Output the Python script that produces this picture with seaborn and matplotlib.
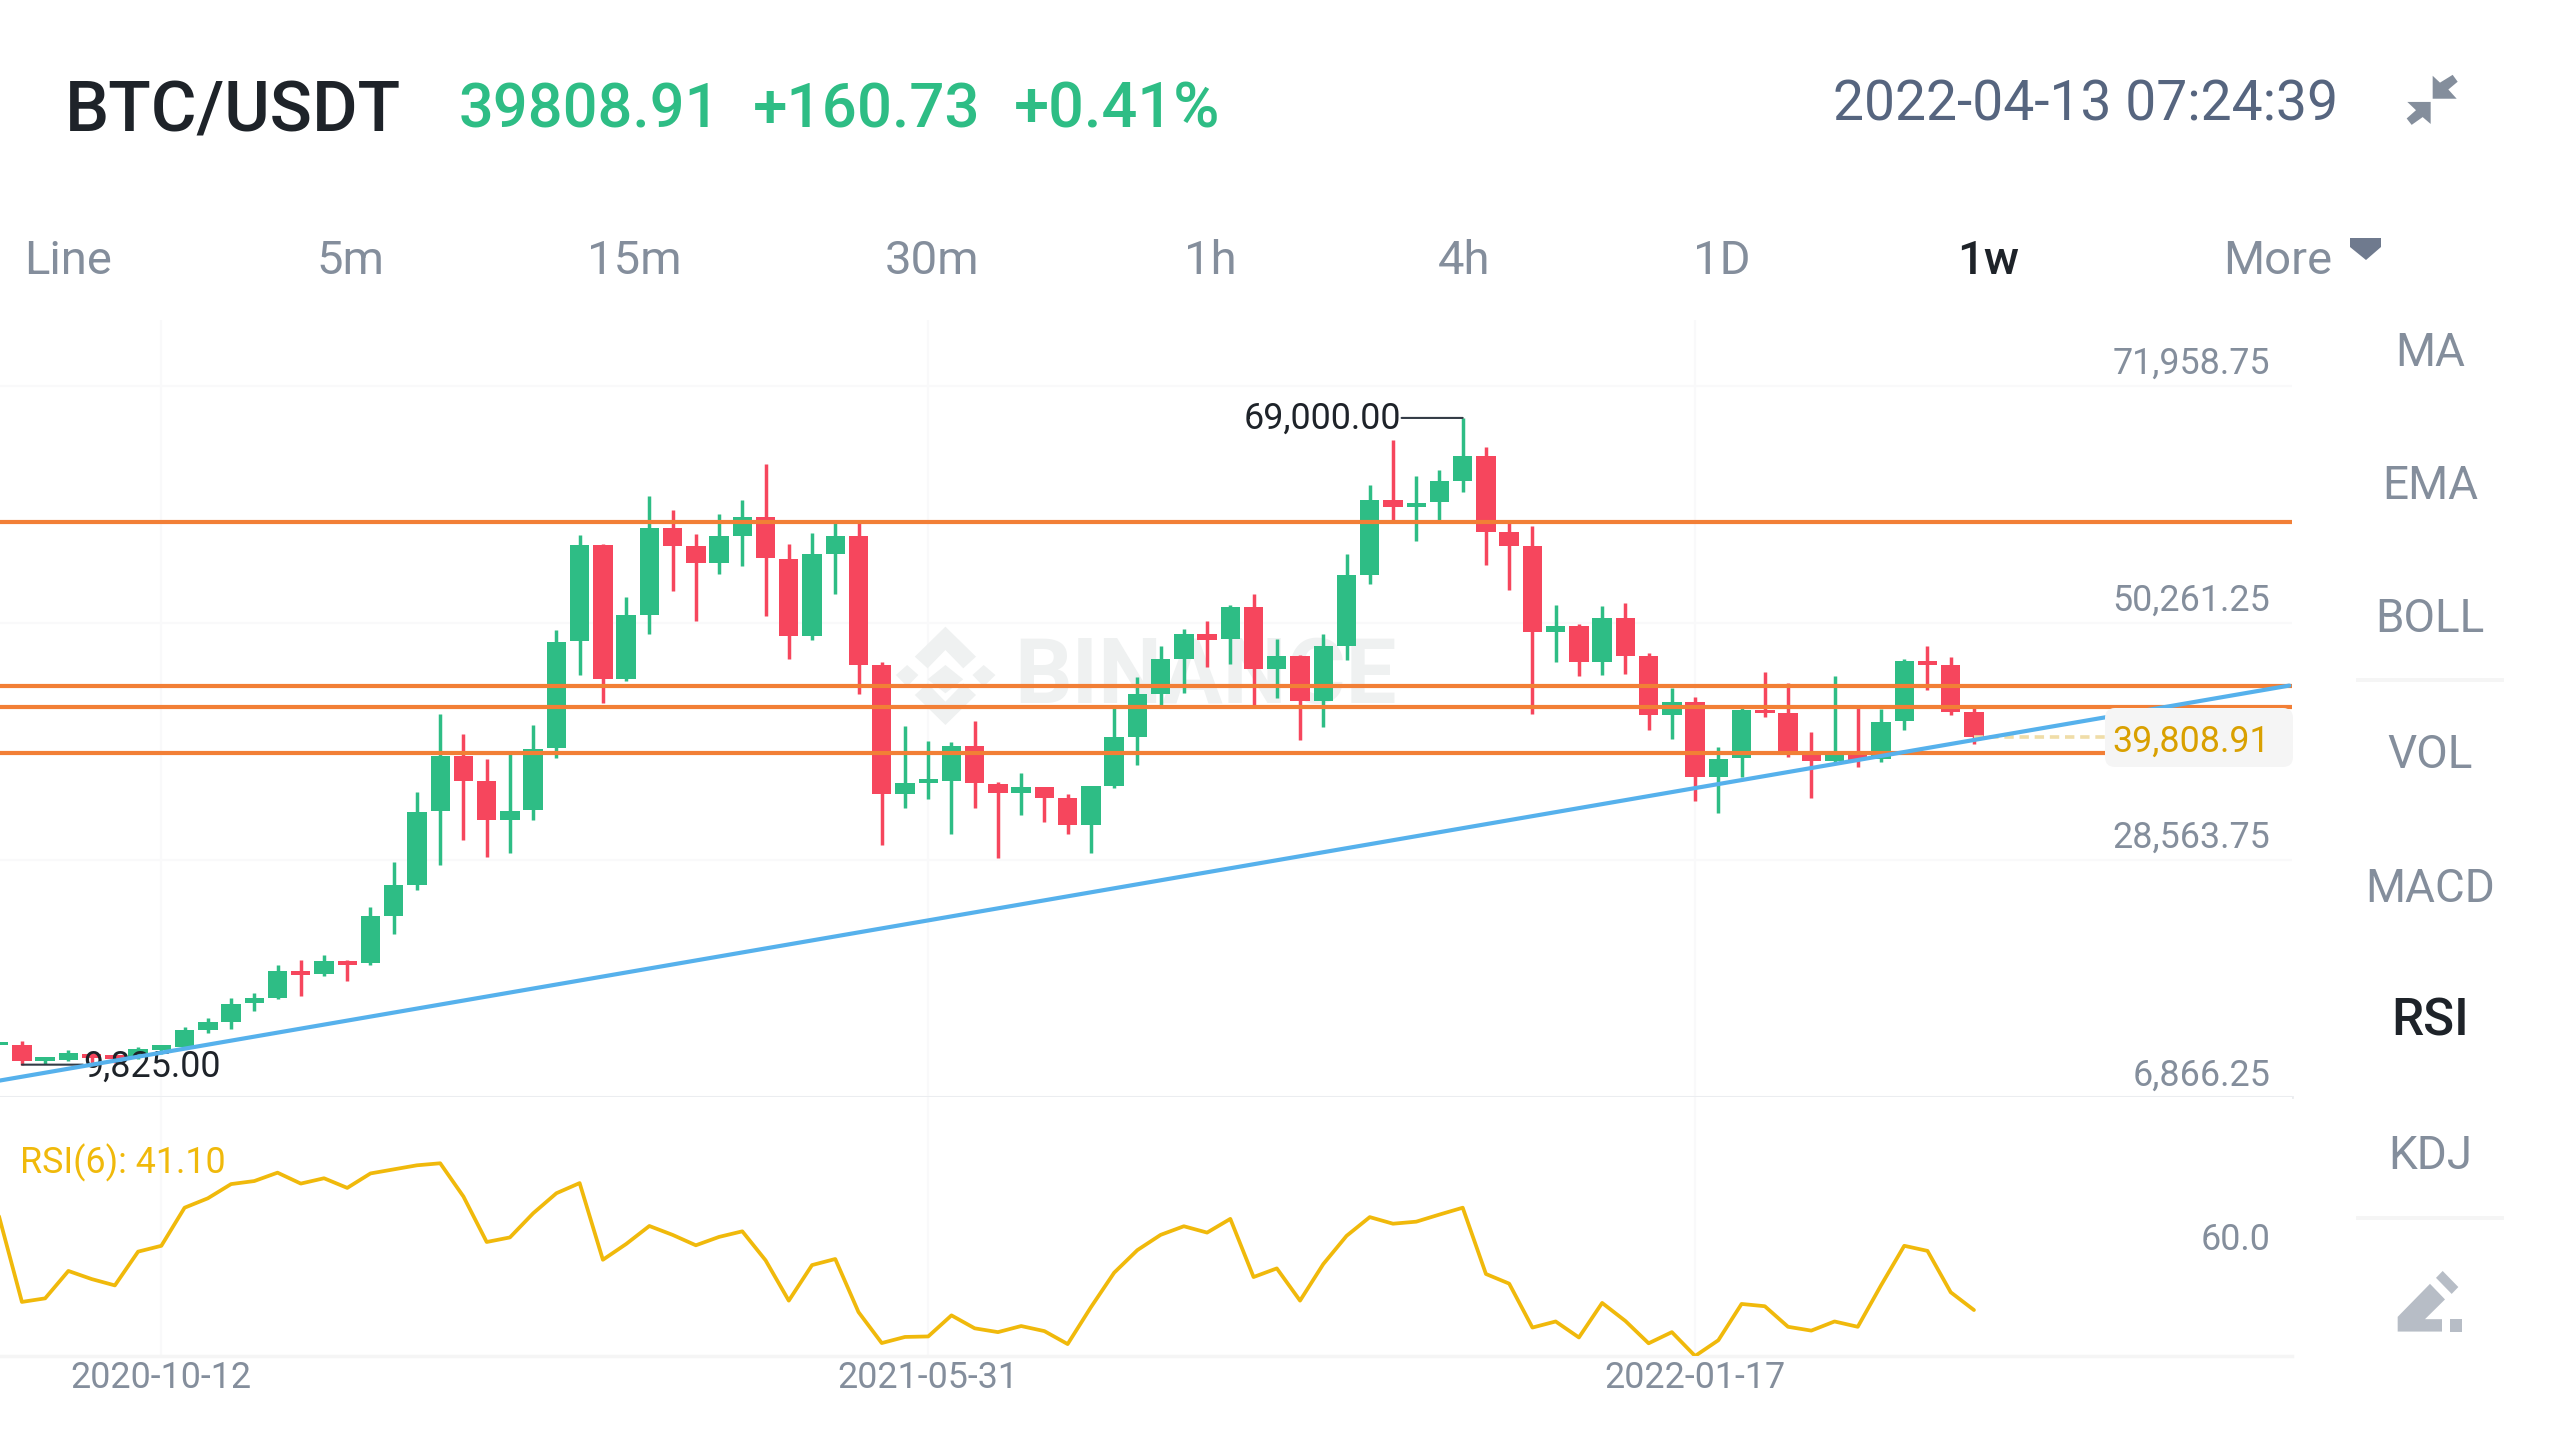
import pandas as pd
import matplotlib
matplotlib.use('Agg')
import matplotlib.pyplot as plt
import matplotlib.transforms as mtrans
import matplotlib.dates as mdates
from matplotlib.patches import Polygon, FancyBboxPatch, Rectangle
import seaborn as sns

# weekly candles, first one is the week of 2020-08-24
opens = [11630, 11630, 10202, 10286, 10832, 10706, 10496, 11210, 11420, 13016, 13730, 15452, 15914, 18350, 18140, 19316, 19148, 23432, 26288, 33008, 38090, 35780, 32252, 33092, 38762, 48590, 57368, 45104, 50984, 58922, 57284, 55772, 58208, 59930, 56108, 49053, 56554, 58200, 46400, 34631, 35607, 35759, 38991, 35546, 34662, 35241, 34204, 31735, 35333, 39815, 43778, 46949, 49206, 48748, 51706, 46004, 47224, 43138, 48169, 54663, 61493, 60822, 61280, 63261, 65487, 58566, 57255, 49388, 49998, 46644, 50730, 47224, 41857, 43016, 36186, 37863, 42284, 42010, 38473, 37650, 38260, 37772, 41248, 46766, 46370, 42101]
highs = [11924, 11966, 10538, 11126, 10916, 10706, 11462, 11630, 13310, 14066, 15914, 16418, 18938, 19400, 19820, 19400, 24272, 28388, 34730, 41912, 40064, 37796, 38510, 40904, 49640, 58334, 57452, 52580, 61820, 60560, 58376, 60182, 61484, 64802, 57452, 58444, 59511, 59511, 46644, 40790, 39449, 39327, 41278, 35668, 36552, 35241, 34631, 35333, 42437, 45272, 48108, 49693, 50456, 51858, 52895, 48779, 47315, 49206, 56523, 62896, 66981, 63688, 64237, 69000, 66371, 59359, 59115, 51889, 50151, 51797, 52072, 47529, 44266, 43443, 38869, 42437, 45760, 44723, 40302, 45364, 42437, 42345, 46949, 48138, 47163, 42437]
lows = [11336, 9825, 9880, 10118, 9950, 9950, 10328, 10790, 11336, 12680, 13100, 14738, 15788, 16124, 17972, 17510, 18938, 21752, 25826, 28052, 30362, 28808, 29186, 32252, 37922, 45524, 42920, 44936, 49220, 53210, 50396, 54764, 55436, 50900, 46910, 48718, 52864, 43778, 29966, 33351, 34113, 30973, 33290, 28777, 32649, 32009, 30973, 29235, 35180, 37284, 42742, 43870, 46218, 46461, 42772, 43351, 39540, 40699, 46858, 53840, 59664, 57773, 59664, 62255, 55547, 53230, 41949, 46705, 45394, 45516, 45608, 40455, 39601, 33961, 32893, 36186, 41614, 37955, 34265, 37406, 37101, 37528, 40424, 44144, 41827, 39174]
closes = [11924, 10160, 10538, 10874, 10454, 10328, 11294, 11630, 12974, 13688, 15410, 15914, 18350, 18056, 19274, 18980, 23390, 26246, 32966, 38090, 35822, 32252, 33050, 38720, 48506, 57368, 45146, 50942, 58922, 57326, 55772, 58166, 59930, 56150, 49052, 56554, 58200, 46400, 34631, 35576, 35942, 38991, 35576, 34662, 35241, 34235, 31735, 35333, 39784, 43748, 46919, 49206, 48718, 51706, 46004, 47224, 43138, 48138, 54602, 61493, 60822, 61249, 63231, 65487, 58596, 57255, 49388, 49998, 46644, 50730, 47254, 41857, 43016, 36186, 37833, 42284, 41979, 38138, 37650, 38473, 37711, 41217, 46766, 46370, 42132, 39808.91]
rsi_values = [78.5, 44.3, 45.7, 56.5, 53.3, 50.8, 64.1, 66.4, 81.4, 85.1, 90.7, 91.9, 95.2, 90.9, 93.0, 89.2, 94.9, 96.5, 98.1, 98.9, 85.8, 67.9, 69.7, 79.2, 87.1, 91.1, 60.9, 67.1, 74.2, 70.7, 66.6, 69.9, 72.1, 60.7, 44.8, 58.8, 61.2, 40.3, 28.1, 30.5, 30.7, 39.0, 33.9, 32.4, 34.8, 32.8, 27.7, 42.2, 55.8, 64.7, 70.7, 74.1, 71.6, 77.0, 54.1, 57.5, 44.8, 59.2, 70.3, 77.7, 75.1, 75.9, 78.7, 81.4, 55.3, 51.5, 34.2, 36.6, 30.3, 43.9, 36.8, 28.0, 32.4, 23.0, 29.2, 43.5, 42.6, 34.5, 33.0, 36.6, 34.5, 50.8, 66.4, 64.4, 48.1, 41.10]

price_ticks = [71958.75, 50261.25, 28563.75, 6866.25]
date_ticks = ['2020-10-12', '2021-05-31', '2022-01-17']
level_prices = [59481, 44480, 42559, 38321]
trend_dates = ['2020-08-24', '2022-07-15']
trend_prices = [8354, 44512]
tabs = ['Line', '5m', '15m', '30m', '1h', '4h', '1D', '1w', 'More']
tab_x = [68, 350, 634, 932, 1210, 1464, 1722, 1988, 2278]
menu = ['MA', 'EMA', 'BOLL', 'VOL', 'MACD', 'RSI', 'KDJ']
menu_y = [353, 486, 619, 755, 889, 1022, 1156]

GREEN = '#2EBD85'
RED = '#F6465D'
GREY = '#848E9C'
DARK = '#1E2329'
GRID = '#F9F9FA'
ORANGE = '#F27F36'
BLUE = '#56B1EC'
YELLOW = '#F0B90B'

sns.set_theme(style='white')
plt.rcParams['font.family'] = ['Roboto', 'DejaVu Sans']

df = pd.DataFrame({'date': pd.date_range('2020-08-24', periods=len(closes), freq='7D'),
                   'open': opens, 'high': highs, 'low': lows, 'close': closes, 'rsi': rsi_values})
df['color'] = [GREEN if c >= o else RED for o, c in zip(df['open'], df['close'])]
df_trend = pd.DataFrame({'date': pd.to_datetime(trend_dates), 'price': trend_prices})
ticks = pd.to_datetime(date_ticks)

fig = plt.figure(figsize=(25.6, 14.4), dpi=100, facecolor='white')
px = mtrans.Affine2D().scale(1, -1).translate(0, 1440)  # screen pixels, y down

ax = fig.add_axes([0, 1 - 1097 / 1440, 2292 / 2560, 777 / 1440])
ax_rsi = fig.add_axes([0, 1 - 1356 / 1440, 2292 / 2560, 259 / 1440], sharex=ax)
x_left = df['date'].iloc[0] + pd.Timedelta(days=0.4)
x_right = df['date'].iloc[0] + pd.Timedelta(days=690.8)

# candles
ax.vlines(df['date'], df['low'], df['high'], colors=df['color'], linewidth=2.5, zorder=2)
ax.bar(df['date'], (df['close'] - df['open']).abs(), bottom=df[['open', 'close']].min(axis=1),
       width=5.84, color=df['color'], linewidth=0, zorder=2.1)

# drawn levels and trend line
for p in level_prices:
    ax.axhline(p, color=ORANGE, linewidth=3, zorder=3)
sns.lineplot(data=df_trend, x='date', y='price', ax=ax, color=BLUE, linewidth=3, zorder=4)

# last price
ax.plot([df['date'].iloc[-1], x_right], [closes[-1], closes[-1]], color='#F0DDA8',
        linewidth=2.6, linestyle=(0, (2.6, 1.6)), zorder=3.2)
ax.add_patch(FancyBboxPatch((2112, 715), 174, 45, boxstyle='round,pad=7,rounding_size=10', transform=px,
                            facecolor='#F5F5F5', edgecolor='none', zorder=5, clip_on=False))

ax.set_xlim(x_left, x_right)
ax.set_ylim(6866.25, 77961)
ax.set_yticks(price_ticks)
ax.set_xticks(ticks)
ax.grid(True, color=GRID, linewidth=1.5)
ax.set_axisbelow(True)
ax.tick_params(labelleft=False, labelbottom=False, length=0)
ax.set_xlabel('')
ax.set_ylabel('')
sns.despine(ax=ax, left=True, top=True, right=True)
ax.spines['bottom'].set_color('#EAECEF')
ax.spines['bottom'].set_linewidth(2)

for p in price_ticks:
    ax.annotate(f'{p:,.2f}', xy=(1, p), xycoords=('axes fraction', 'data'), xytext=(-15.8, 15.6),
                textcoords='offset points', ha='right', va='center', fontsize=25.8, color=GREY, zorder=6)
ax.annotate(f'{closes[-1]:,.2f}', xy=(1, closes[-1]), xycoords=('axes fraction', 'data'), xytext=(-16, -3.3),
            textcoords='offset points', ha='right', va='center', fontsize=25.8, color='#D9A000', zorder=6)

# high / low markers
ax.annotate(f'{max(highs):,.2f}', xy=(df['date'].iloc[63], max(highs)), xytext=(-44.5, -0.6), textcoords='offset points',
            ha='right', va='center', fontsize=25.8, color=DARK, zorder=6,
            annotation_clip=False)
ax.annotate('', xy=(df['date'].iloc[63], max(highs)), xytext=(-44, 0), textcoords='offset points',
            arrowprops=dict(arrowstyle='-', color='#333B46', linewidth=1.5, shrinkA=0, shrinkB=0), zorder=6)
ax.annotate(f'{min(lows):,.2f}', xy=(df['date'].iloc[1], min(lows)), xytext=(44, -1.5), textcoords='offset points',
            ha='left', va='center', fontsize=25.8, color=DARK, zorder=3.5)
ax.annotate('', xy=(df['date'].iloc[1], min(lows)), xytext=(44, 0), textcoords='offset points',
            arrowprops=dict(arrowstyle='-', color='#333B46', linewidth=1.5, shrinkA=0, shrinkB=0), zorder=3.4)

# RSI panel
sns.lineplot(data=df, x='date', y='rsi', ax=ax_rsi, color=YELLOW, linewidth=2.7, zorder=3)
ax_rsi.set_ylim(23, 125)
ax_rsi.set_yticks([60])
ax_rsi.set_xticks(ticks)
ax_rsi.xaxis.set_major_formatter(mdates.DateFormatter('%Y-%m-%d'))
ax_rsi.grid(True, axis='x', color=GRID, linewidth=1.5)
ax_rsi.set_axisbelow(True)
ax_rsi.tick_params(labelleft=False, length=0, pad=3, labelsize=25.8, labelcolor=GREY)
ax_rsi.set_xlabel('')
ax_rsi.set_ylabel('')
sns.despine(ax=ax_rsi, left=True, top=True, right=True)
ax_rsi.spines['bottom'].set_color('#F5F5F5')
ax_rsi.spines['bottom'].set_linewidth(2.5)
ax_rsi.annotate('60.0', xy=(1, 60), xycoords=('axes fraction', 'data'), xytext=(-15.8, 15.6),
                textcoords='offset points', ha='right', va='center', fontsize=25.8, color=GREY)
ax_rsi.text(20, 1163, f'RSI(6): {rsi_values[-1]:.2f}', transform=px, ha='left', va='center', fontsize=25.8, color=YELLOW)

# watermark behind the candles
wm = [[(285, 680), (345, 770), (320, 805), (285, 750), (250, 805), (225, 770)],
      [(285, 795), (320, 838), (285, 880), (250, 838)],
      [(188, 825), (210, 795), (232, 825), (210, 860)],
      [(383, 825), (360, 795), (338, 825), (360, 860)],
      [(285, 975), (345, 885), (320, 850), (285, 905), (250, 850), (225, 885)]]
for shape in wm:
    pts = [(800 + a / 1.96, 400 + b / 3) for a, b in shape]
    ax.add_patch(Polygon(pts, transform=px, facecolor='#EFF1F1', edgecolor='none', zorder=1))
ax.text(1205, 678, 'BINANCE', transform=px, ha='center', va='center', fontsize=65, fontweight='bold', color='#EFF1F1', zorder=1)

# header
fig.text(65, 112, 'BTC/USDT', transform=px, ha='left', va='center', fontsize=50.4, fontweight=500, color=DARK)
fig.text(459, 111, '39808.91', transform=px, ha='left', va='center', fontsize=44.2, fontweight=500, color=GREEN)
fig.text(753, 111, '+160.73', transform=px, ha='left', va='center', fontsize=44.6, fontweight=500, color=GREEN)
fig.text(1014, 111, '+0.41%', transform=px, ha='left', va='center', fontsize=45.4, fontweight=500, color=GREEN)
fig.text(2338, 105, '2022-04-13 07:24:39', transform=px, ha='right', va='center', fontsize=39.8, color='#56657F')

# interval tabs
for name, x in zip(tabs, tab_x):
    active = name == '1w'
    fig.text(x, 261, name, transform=px, ha='center', va='center', fontsize=34,
             color=DARK if active else GREY, fontweight=500 if active else 'normal')
fig.add_artist(Polygon([(2350, 238), (2381, 238), (2381, 247), (2366, 260), (2350, 247)], transform=px,
                       facecolor='#6F7A8E', edgecolor='none'))

# indicator menu
for name, y in zip(menu, menu_y):
    active = name == 'RSI'
    fig.text(2430, y, name, transform=px, ha='center', va='center', fontsize=37 if active else 33,
             color=DARK if active else GREY, fontweight=500 if active else 'normal')
for y in [680, 1218]:
    fig.add_artist(Rectangle((2356, y - 2), 148, 4, transform=px, facecolor='#F5F5F5', edgecolor='none'))

# icons
def icon(points, color, oy=0, sy=2.178):
    pts = [(2100 + a / 3, oy + b / sy) for a, b in points]
    fig.add_artist(Polygon(pts, transform=px, facecolor=color, edgecolor='none'))

icon([(998, 165), (1020, 180), (1058, 163), (1073, 178), (1045, 195), (1070, 215), (998, 215)], GREY)
icon([(992, 222), (992, 270), (968, 255), (935, 272), (920, 258), (948, 240), (922, 222)], GREY)
icon([(893, 1300), (990, 1228), (1035, 1262), (975, 1305), (1026, 1305), (1026, 1332), (893, 1332)], '#B7BDC6', oy=720)
icon([(1028, 1200), (1075, 1235), (1055, 1250), (1008, 1215)], '#B7BDC6', oy=720)
icon([(1050, 1305), (1086, 1305), (1086, 1332), (1050, 1332)], '#B7BDC6', oy=720)

fig.savefig('out.png', dpi=100, facecolor='white')
